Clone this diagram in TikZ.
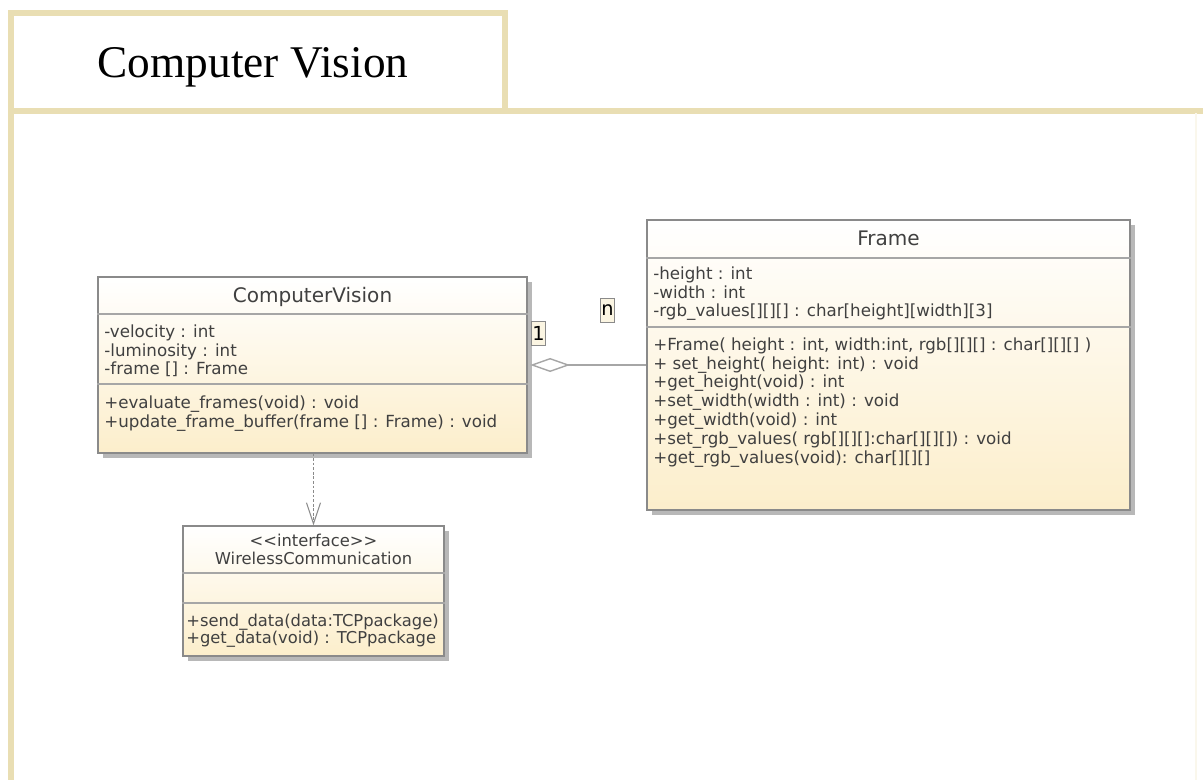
\documentclass[tikz,border=0pt]{standalone}
\usepackage{fontspec}
\setmainfont{Liberation Serif}
\newfontfamily\umlfont{DejaVu Sans}[Ligatures=TeXOff]
\usetikzlibrary{arrows.meta}
\usetikzlibrary{positioning}
\usetikzlibrary{fit}
\usetikzlibrary{shadows}

\definecolor{sheettan}{HTML}{E9DEB3}
\definecolor{umlborder}{HTML}{8A8A8A}
\definecolor{umlsep}{HTML}{A6A6A6}
\definecolor{umltext}{HTML}{404040}
\definecolor{umlfill}{HTML}{FCEECB}
\definecolor{multfill}{HTML}{FBF5E2}

\tikzset {
  % tan borders of the sheet
  sheet line/.style = {
    draw = sheettan,
    line width = 2.9pt
  },
  title box/.style = {
    sheet line,
    rectangle,
    inner sep = 0
  },
  title text/.style = {
    font = \fontsize{25.8}{30}\selectfont,
    inner sep = 0
  }
}
\tikzset {
  % class rectangle
  class box/.style = {
    draw = umlborder,
    line width = 0.6pt,
    rectangle,
    inner sep = 0,
    top color = white,
    bottom color = umlfill,
    drop shadow = {shadow xshift=2.6pt, shadow yshift=-2.6pt, fill=black, opacity=0.28}
  },
  % line between two compartments
  compartment/.style = {
    draw = umlsep,
    line width = 1.1pt
  },
  class name/.style = {
    font = \umlfont\fontsize{11.4}{13}\selectfont,
    text = umltext,
    inner sep = 0
  },
  member/.style = {
    font = \umlfont\fontsize{9.5}{10.8}\selectfont,
    text = umltext,
    align = left,
    anchor = north west,
    inner sep = 0
  },
  % multiplicity label
  mult/.style = {
    draw = umlborder,
    fill = multfill,
    line width = 0.5pt,
    font = \umlfont\fontsize{11}{12}\selectfont,
    minimum width = 7.5pt,
    minimum height = 13.5pt,
    inner sep = 0.5pt
  }
}
\tikzset {
  % aggregation, diamond at the owner
  aggr/.style = {
    draw = umlsep,
    line width = 0.8pt,
    arrows = {Diamond[open, length = 22.7pt, width = 8pt]-},
    shorten <= 1.5pt
  },
  % dependency
  dep/.style = {
    draw = umlborder,
    line width = 0.6pt,
    dash pattern = on 1.6pt off 1pt,
    arrows = {-Straight Barb[length = 12pt, width = 8pt]}
  }
}

\begin{document}
\begin{tikzpicture}[x = 0.02cm, y = -0.02cm]
  \path[use as bounding box, fill = white] (0,0) rectangle (1203,780);

  % sheet
  \draw[sheet line] (11,780) -- (11,111) -- (1203,111);
  \draw[sheet line, draw = sheettan!25, line width = 1pt] (1196,113) -- (1196,780);
  \node[title box, fit = {(11,13) (505,111)}] (title) {};
  \node[title text, anchor = base] (title name) at (253,78) {Computer Vision};

  % classes
  \node[class box, fit = {(98,277) (527,453)}] (cv) {};
  \node[class box, fit = {(647,220) (1130,510)}] (frame) {};
  \node[class box, fit = {(183,526) (444,656)}] (wifi) {};

  \draw[compartment] (cv.west |- 0,314) -- (cv.east |- 0,314);
  \draw[compartment] (cv.west |- 0,384) -- (cv.east |- 0,384);
  \draw[compartment] (frame.west |- 0,258) -- (frame.east |- 0,258);
  \draw[compartment] (frame.west |- 0,327) -- (frame.east |- 0,327);
  \draw[compartment] (wifi.west |- 0,573) -- (wifi.east |- 0,573);
  \draw[compartment] (wifi.west |- 0,603) -- (wifi.east |- 0,603);

  \node[class name] (cv name) at (cv.north |- 0,297) {ComputerVision};
  \node[member] (cv attrs) at (104,324) {-velocity : int\\-luminosity : int\\-frame [] : Frame};
  \node[member] (cv ops) at (104,395) {+evaluate\_frames(void) : void\\+update\_frame\_buffer(frame [] : Frame) : void};

  \node[class name] (frame name) at (frame.north |- 0,238) {Frame};
  \node[member] (frame attrs) at (653,266) {-height : int\\-width : int\\-rgb\_values[][][] : char[height][width][3]};
  \node[member] (frame ops) at (653,337) {+Frame( height : int, width:int, rgb[][][] : char[][][] )\\+ set\_height( height: int) : void\\+get\_height(void) : int\\+set\_width(width : int) : void\\+get\_width(void) : int\\+set\_rgb\_values( rgb[][][]:char[][][]) : void\\+get\_rgb\_values(void): char[][][]};

  \node[class name, font = \umlfont\fontsize{9.3}{10.2}\selectfont, align = center, anchor = north] (wifi name) at (wifi.north |- 0,534) {<<interface>>\\WirelessCommunication};
  \node[member, font = \umlfont\fontsize{9.3}{9.6}\selectfont] (wifi ops) at (186,614) {+send\_data(data:TCPpackage)\\+get\_data(void) : TCPpackage};

  % connectors
  \draw[aggr] (cv.east) -- (frame.west |- cv.east);
  \draw[dep] (cv.south -| wifi.north) -- (wifi.north);

  \node[mult] (one) at (538.5,333.5) {1};
  \node[mult] (many) at (607.5,310.5) {n};
\end{tikzpicture}
\end{document}
